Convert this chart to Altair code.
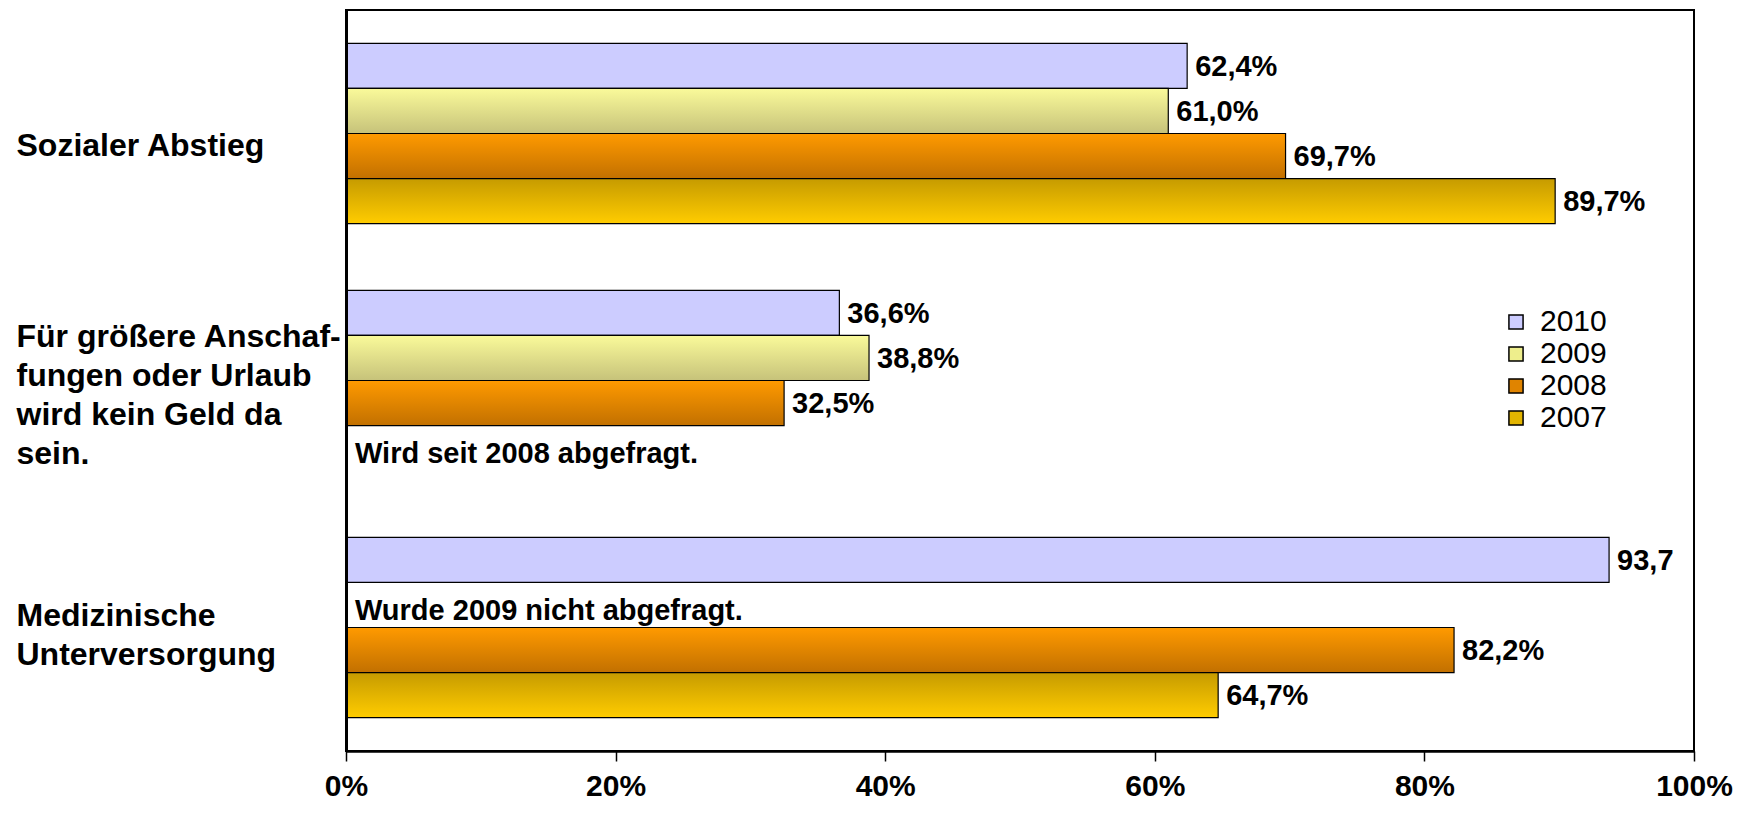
import altair as alt
import pandas as pd

# ---- data ----
categories = [
    "Sozialer Abstieg",
    "Für größere Anschaf-|fungen oder Urlaub|wird kein Geld da|sein.",
    "Medizinische|Unterversorgung",
]
years = ["2010", "2009", "2008", "2007"]
values_2010 = [62.4, 36.6, 93.7]
values_2009 = [61.0, 38.8, None]
values_2008 = [69.7, 32.5, 82.2]
values_2007 = [89.7, None, 64.7]
labels_2010 = ["62,4%", "36,6%", "93,7"]
labels_2009 = ["61,0%", "38,8%", None]
labels_2008 = ["69,7%", "32,5%", "82,2%"]
labels_2007 = ["89,7%", None, "64,7%"]
notes_cat = [categories[1], categories[2]]
notes_year = ["2007", "2009"]
notes_text = ["Wird seit 2008 abgefragt.", "Wurde 2009 nicht abgefragt."]
x_ticks = [0, 20, 40, 60, 80, 100]

legend_colors = ["#CCCCFF", "#EEEE8C", "#E08400", "#E3B500"]
gradients = {
    "2010": [("#CCCCFF", 0), ("#CCCCFF", 1)],
    "2009": [("#FAFA9A", 0), ("#C6C27A", 1)],
    "2008": [("#FF9A00", 0), ("#C27000", 1)],
    "2007": [("#C69B00", 0), ("#FFCC00", 1)],
}

rows = []
for yr, vals, labs in [("2010", values_2010, labels_2010), ("2009", values_2009, labels_2009),
                       ("2008", values_2008, labels_2008), ("2007", values_2007, labels_2007)]:
    for c, v, l in zip(categories, vals, labs):
        if v is not None:
            rows.append({"cat": c, "year": yr, "value": v, "label": l})
df = pd.DataFrame(rows)
notes = pd.DataFrame({"cat": notes_cat, "year": notes_year, "text": notes_text, "value": [0, 0]})
leg = pd.DataFrame({"year": years})

FONT = "Liberation Sans"

yscale = alt.Scale(domain=categories, paddingInner=0.27, paddingOuter=0.135)
yoffscale = alt.Scale(domain=years, paddingInner=0, paddingOuter=0)
xscale = alt.Scale(domain=[0, 100], nice=False)

x_axis = alt.Axis(values=x_ticks, labelExpr="datum.value + '%'", grid=False, domainColor="black",
                  domainWidth=2.5, tickColor="black", tickSize=10, tickWidth=1.5, labelFontSize=30,
                  labelFontWeight="bold", labelFont=FONT, labelColor="black", labelPadding=10,
                  labelFlush=False, labelOverlap=False, title=None, zindex=1)
y_axis = alt.Axis(title=None, ticks=False, tickSize=0, domainColor="black", domainWidth=3,
                  labelAlign="left", labelBaseline="middle", labelPadding=330, labelFontSize=32,
                  labelFontWeight="bold", labelFont=FONT, labelLimit=400, labelLineHeight=39,
                  labelOffset={"condition": [
                      {"test": "indexof(datum.value, 'Anschaf') >= 0", "value": -44},
                      {"test": "indexof(datum.value, 'Medizin') >= 0", "value": -12},
                  ], "value": 12},
                  labelExpr="split(datum.label, '|')", labelColor="black", zindex=1)


def pos():
    return dict(
        x=alt.X("value:Q", scale=xscale, axis=x_axis),
        y=alt.Y("cat:N", scale=yscale, sort=categories, axis=y_axis),
        yOffset=alt.YOffset("year:N", scale=yoffscale, sort=years),
    )


layers = []
for yr in years:
    g = alt.Gradient(gradient="linear", x1=0, x2=0, y1=0, y2=1,
                     stops=[alt.GradientStop(color=c, offset=o) for c, o in gradients[yr]])
    layers.append(
        alt.Chart(df).transform_filter(alt.datum.year == yr)
        .mark_bar(fill=g, stroke="black", strokeWidth=1.2)
        .encode(**pos())
    )

value_text = alt.Chart(df).mark_text(align="left", baseline="middle", dx=8, dy=1, fontSize=29,
                                     fontWeight="bold", font=FONT, color="black").encode(
    text="label:N", **pos()
)

note_text = alt.Chart(notes).mark_text(align="left", baseline="middle", dx=9, dy=6, fontSize=29,
                                       fontWeight="bold", font=FONT, color="black").encode(
    text="text:N", **pos()
)

legend_layer = alt.Chart(leg).mark_square(opacity=0, size=1).encode(
    color=alt.Color("year:N", scale=alt.Scale(domain=years, range=legend_colors), sort=years,
                    legend=alt.Legend(orient="none", legendX=1155, legendY=297, title=None,
                                      labelFontSize=30, labelFont=FONT, labelColor="black",
                                      symbolType="square", symbolSize=200, symbolStrokeColor="black",
                                      symbolStrokeWidth=1.5, symbolOpacity=1, rowPadding=2,
                                      labelOffset=9))
)

chart = alt.layer(*layers, value_text, note_text, legend_layer).properties(
    width=1348, height=741,
    padding={"left": 338, "top": 2, "right": 40, "bottom": 54},
    autosize=alt.AutoSizeParams(type="none"),
    background="white",
).configure_view(stroke="black", strokeWidth=2)

chart.save("out.html", embed_options={"renderer": "svg", "actions": False})
